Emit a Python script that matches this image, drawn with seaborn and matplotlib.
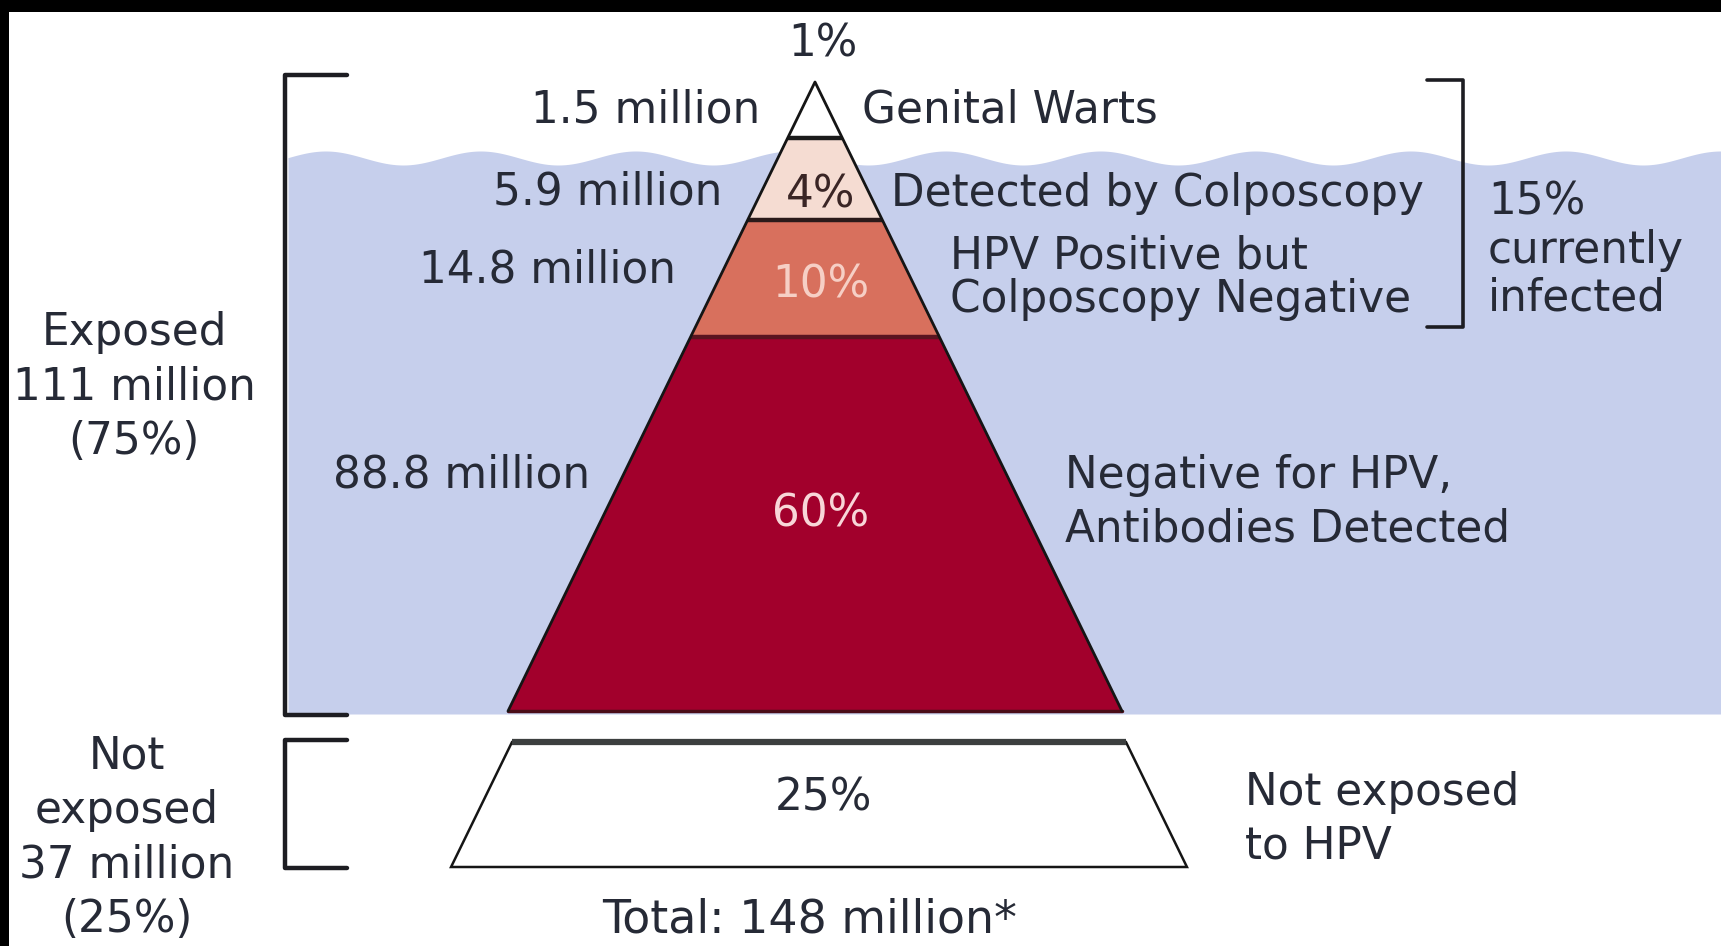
import numpy as np
import pandas as pd
import seaborn as sns
import matplotlib
matplotlib.use("Agg")
import matplotlib.pyplot as plt

# ---------------- data ----------------
layer_pcts = [1, 4, 10, 60]                      # exposed layers, top to bottom
layer_counts = ["1.5 million", "5.9 million", "14.8 million", "88.8 million"]
layer_names = ["Genital Warts", "Detected by Colposcopy",
               "HPV Positive but\nColposcopy Negative",
               "Negative for HPV,\nAntibodies Detected"]
pct_labels = ["1%", "4%", "10%", "60%"]
not_exposed_pct = 25
not_exposed_label = "25%"
exposed_text = "Exposed\n111 million\n(75%)"
not_exposed_text = "Not\nexposed\n37 million\n(25%)"
not_exposed_name = "Not exposed\nto HPV"
infected_text = "15%\ncurrently\ninfected"
total_text = "Total: 148 million*"

# ---------------- style / layout ----------------
W, H = 1721, 946
layer_colors = ["#ffffff", "#f5dcd2", "#d8705d", "#a2002c"]
water_color = "#c6cfec"
text_color = "#262a36"
FS = 31.5

sns.set_theme(style="white")
plt.rcParams["font.family"] = ["DejaVu Sans"]

fig = plt.figure(figsize=(W / 100, H / 100), dpi=100)
ax = fig.add_axes([0, 0, 1, 1])
ax.set_xlim(0, W)
ax.set_ylim(H, 0)
ax.axis("off")
fig.patch.set_facecolor("white")

# pyramid geometry (pixel layout)
cx, apex_y, base_y = 815, 82, 711
slope = 0.488
depth = base_y - apex_y
exposed_total = sum(layer_pcts)
cum = np.cumsum(layer_pcts) / exposed_total
bounds = apex_y + depth * cum ** 0.56          # area-like scaling of layers
tops = np.concatenate([[apex_y], bounds[:-1]])

def hw(y):
    return slope * (y - apex_y)

# water with wavy surface
xs = np.linspace(288, W, 600)
wave = 158 + 7 * np.cos(2 * np.pi * (xs - 403) / 155)
ax.fill_between(xs, wave, 714, color=water_color, lw=0, zorder=1)

# pyramid layers
for t, b, c in zip(tops, bounds, layer_colors):
    px = [cx - hw(t), cx + hw(t), cx + hw(b), cx - hw(b)]
    py = [t, t, b, b]
    ax.fill(px, py, color=c, lw=0, zorder=2)
# separators
sep_colors = ["#1b1b1b", "#2a1a1a", "#5a1420"]
for b, sc in zip(bounds[:-1], sep_colors):
    ax.plot([cx - hw(b), cx + hw(b)], [b, b], color=sc, lw=3.2, zorder=3,
            solid_capstyle="butt")
ax.plot([cx - hw(base_y), cx + hw(base_y)], [base_y, base_y], color="#4a0d18",
        lw=2.5, zorder=3)
# outline
edge_df = pd.DataFrame({"x": [cx - hw(base_y), cx, cx + hw(base_y)],
                        "y": [base_y, apex_y, base_y]})
sns.lineplot(data=edge_df, x="x", y="y", sort=False, estimator=None,
             color="#151515", lw=2.0, ax=ax, zorder=4)

# not exposed trapezoid (continuation of the pyramid after a gap)
gap, band_h = 31, 5 * not_exposed_pct
t2 = base_y + gap
b2 = t2 + band_h
cx2 = cx + 4
px = [cx2 - hw(base_y), cx2 + hw(base_y), cx2 + hw(base_y + band_h), cx2 - hw(base_y + band_h)]
py = [t2, t2, b2, b2]
ax.fill(px + [px[0]], py + [py[0]], facecolor="white", edgecolor="#151515", lw=1.8, zorder=2)
ax.plot(px[:2], [t2, t2], color="#3c3f3f", lw=4.5, zorder=3, solid_capstyle="butt")

# brackets
def bracket(x, y0, y1, tick, lw=3.2):
    df = pd.DataFrame({"x": [x + tick, x, x, x + tick], "y": [y0, y0, y1, y1]})
    sns.lineplot(data=df, x="x", y="y", sort=False, estimator=None,
                 color="#1d1d22", lw=lw, ax=ax, zorder=5)

bracket(285, 75, 715, 62)
bracket(285, 740, 868, 62)
bracket(1463, 80, 327, -36, lw=2.6)

# text
tk = dict(color=text_color, fontsize=FS, zorder=6)
ax.text(823, 44, pct_labels[0], ha="center", va="center", **tk)

left_pos = [(760, 110), (722, 192), (676, 270), (590, 475)]
right_pos = [(862, 110), (891, 193), (950, 278), (1065, 502)]
right_ls = [1.0, 1.0, 1.02, 1.3]
for (x, y), s in zip(left_pos, layer_counts):
    ax.text(x, y, s, ha="right", va="center", **tk)
for (x, y), s, ls in zip(right_pos, layer_names, right_ls):
    ax.text(x, y, s, ha="left", va="center", linespacing=ls, **tk)

inner = [(821, 195, "#3a2525"), (821, 285, "#f6cfc5"), (821, 514, "#f8d6d8")]
for (x, y, c), s in zip(inner, pct_labels[1:]):
    ax.text(x, y, s, ha="center", va="center", color=c, fontsize=FS, zorder=6)

ax.text(823, 798, not_exposed_label, ha="center", va="center", **tk)
ax.text(1245, 819, not_exposed_name, ha="left", va="center", linespacing=1.32, **tk)
ax.text(1488, 250, infected_text, ha="left", va="center", linespacing=1.14, **tk)
ax.text(134, 387, exposed_text, ha="center", va="center", linespacing=1.34, **tk)
ax.text(127, 838, not_exposed_text, ha="center", va="center", linespacing=1.34, **tk)
ax.text(810, 920, total_text, ha="center", va="center", color=text_color,
        fontsize=33, zorder=6)

# black frame (top and left)
ax.fill([0, W, W, 0], [0, 0, 12, 12], color="black", lw=0, zorder=10)
ax.fill([0, 9, 9, 0], [0, 0, H, H], color="black", lw=0, zorder=10)

fig.savefig("out.png", dpi=100)
